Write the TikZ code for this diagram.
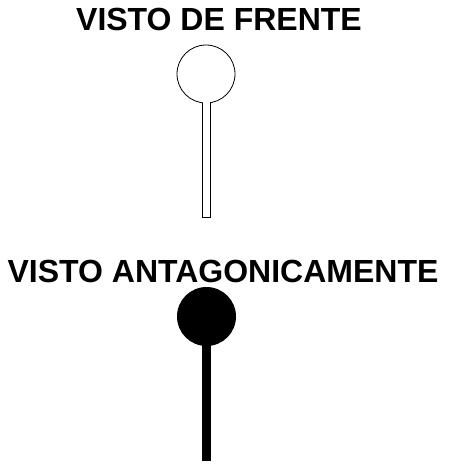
\documentclass[tikz,border=0pt]{standalone}
\usepackage{fontspec}
\setmainfont{Liberation Sans}
\begin{document}
\begin{tikzpicture}[x=1pt,y=-1pt,
  title/.style={font=\fontsize{32}{36}\selectfont\bfseries, anchor=base, inner sep=0pt},
  outl/.style={draw=black, line width=0.8pt, fill=white},
  solid/.style={fill=black}]
\useasboundingbox (0,0) rectangle (448,469);
\node[title] (t1) at (219,30) {VISTO DE FRENTE};
\node[title] (t2) at (223,282) {VISTO ANTAGONICAMENTE};
% front view
\draw[outl] (202.5,100) rectangle (210.5,217.5);
\draw[outl] (206,74) circle (29);
\fill[white] (203,100) rectangle (210,104);
% back view
\fill[solid] (202,330) rectangle (211,461);
\fill[solid] (206.5,316.5) circle (29.5);
\end{tikzpicture}
\end{document}
